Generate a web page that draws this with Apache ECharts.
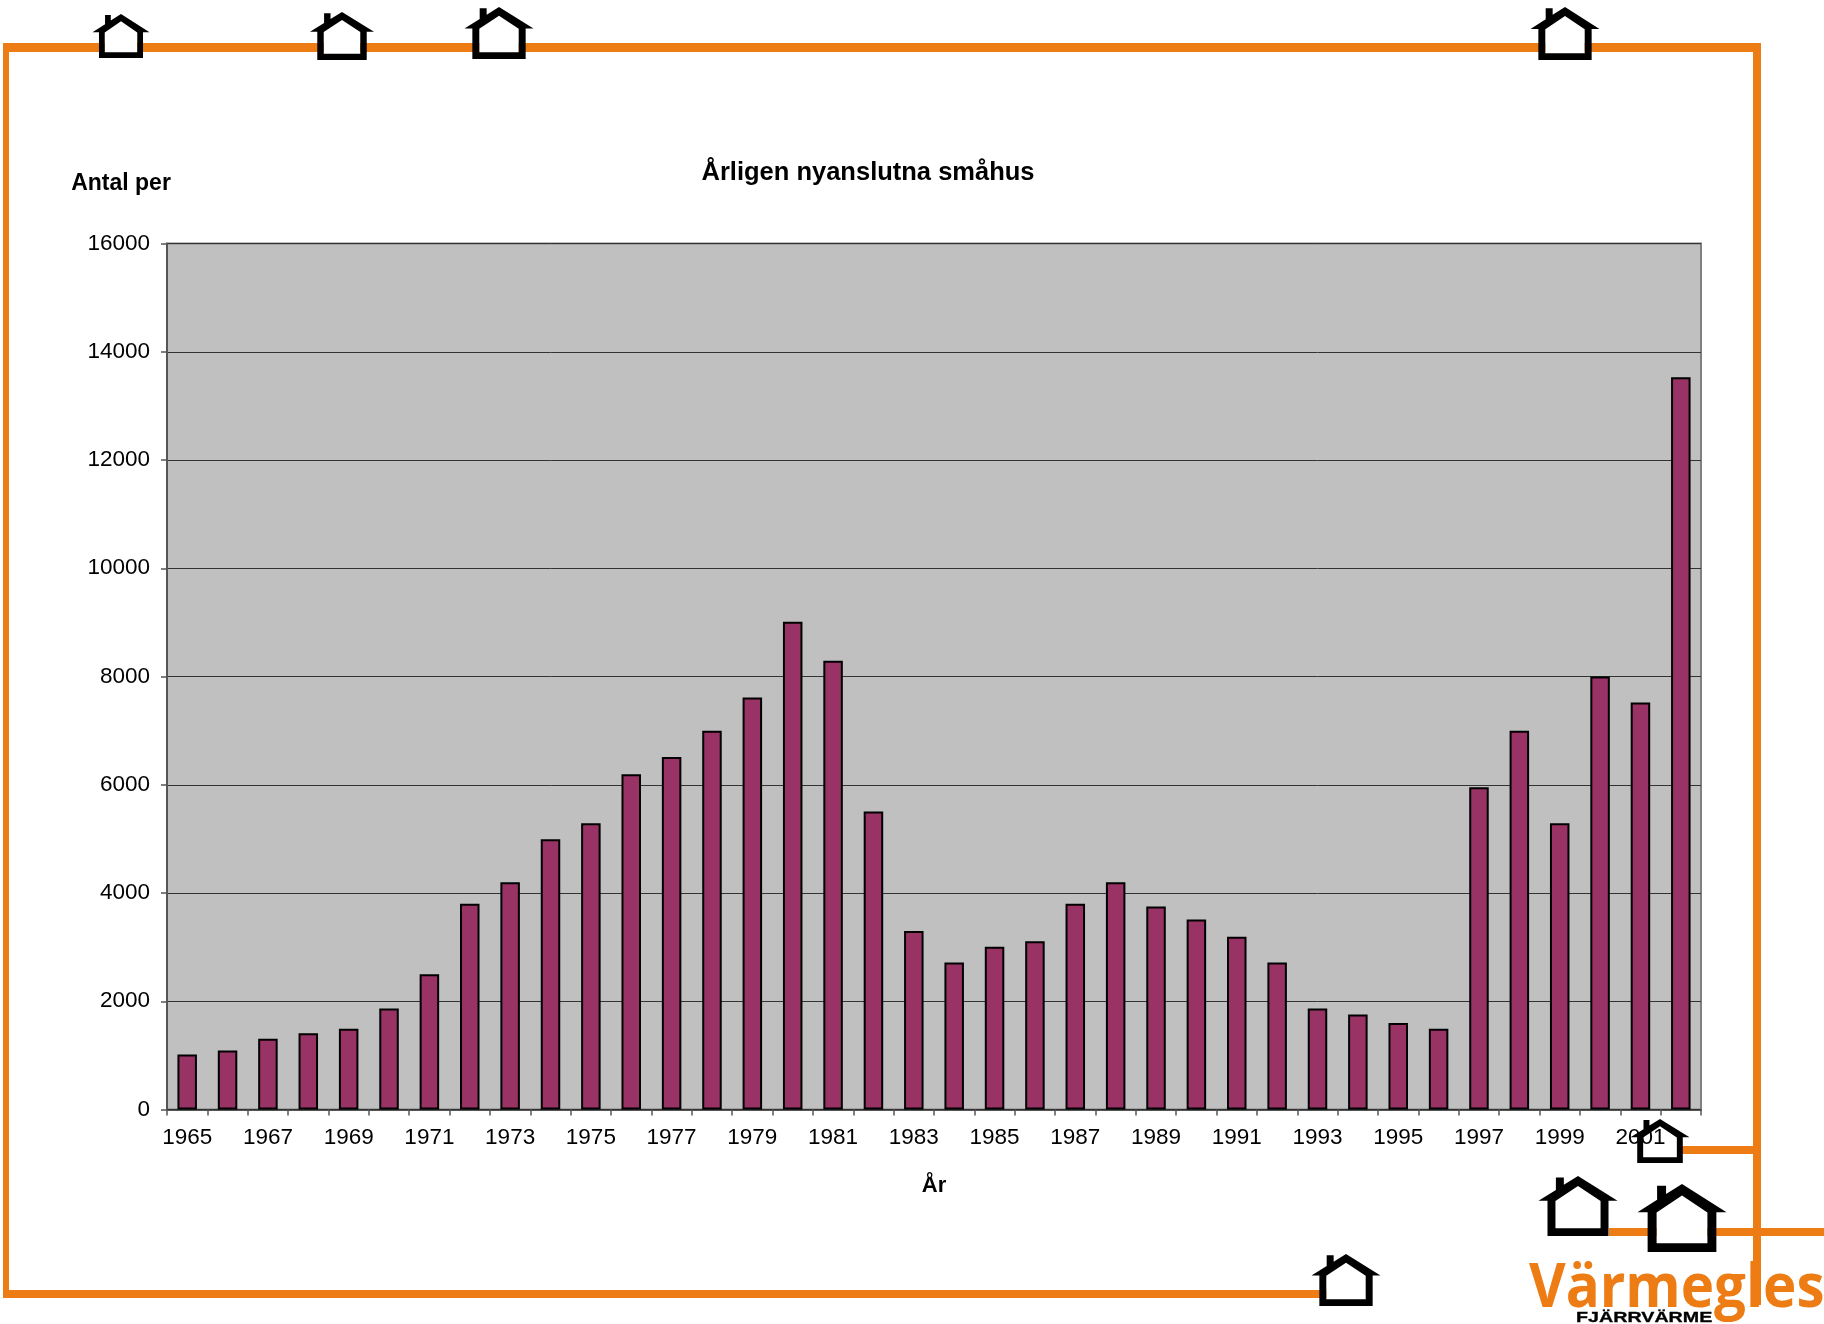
<!DOCTYPE html>
<html><head><meta charset="utf-8">
<style>html,body{margin:0;padding:0;background:#fff}#c{width:1824px;height:1324px}</style>
<script src="https://cdn.jsdelivr.net/npm/echarts@6/dist/echarts.min.js"></script>
</head><body><div id="c"></div>
<script>
const years = ['1965','1966','1967','1968','1969','1970','1971','1972','1973','1974','1975','1976','1977','1978','1979','1980','1981','1982','1983','1984','1985','1986','1987','1988','1989','1990','1991','1992','1993','1994','1995','1996','1997','1998','1999','2000','2001','2002'];
const connected = [1015,1090,1305,1410,1490,1865,2500,3800,4200,4995,5290,6195,6515,7000,7610,9010,8290,5505,3300,2715,3005,3110,3800,4200,3750,3510,3190,2715,1865,1755,1600,1490,5955,7000,5290,8000,7520,13530];
const titleText = 'Årligen nyanslutna småhus';
const yName = 'Antal per';
const xName = 'År';
const ORANGE = '#EC7C13';
const frameLines = [
  [3,43,1761,52],[3,43,9,1298],[3,1290,1330,1298],[1753,43,1761,1305],
  [1682,1146,1753,1154],[1609,1228,1824,1236]
];
const houses = [
  [121,14,57,44],[342,12,64,48],[499,7,69,52],[1565,7,69,53],
  [1660,1119,59,44],[1578,1176,79,60],[1682,1184,89,68],[1346,1254,69,52]
];
function housePaths(cx,top,w,h){
  const X=v=>cx+v/268*w, Y=v=>top+v/203*h;
  const pts=a=>a.map(p=>[X(p[0]),Y(p[1])]);
  const outer=pts([[0,0],[134,84],[103.5,84],[103.5,203],[-103.5,203],[-103.5,84],[-134,84],[-75,47],[-75,5],[-48,5],[-48,30]]);
  const inner=pts([[0,34],[76.5,85],[76.5,177],[-76.5,177],[-76.5,85]]);
  return {outer,inner};
}
const graphics=[];
frameLines.forEach(r=>graphics.push({type:'rect',z:-3,shape:{x:r[0],y:r[1],width:r[2]-r[0],height:r[3]-r[1]},style:{fill:ORANGE}}));
houses.forEach(h=>{
  const p=housePaths(...h);
  graphics.push({type:'polygon',z:-2,shape:{points:p.inner},style:{fill:'#fff'}});
  const ring=p.outer.concat([p.outer[0]],[p.inner[0]],p.inner.slice().reverse(),[p.inner[0]]);
  graphics.push({type:'polygon',z:100,shape:{points:ring},style:{fill:'#000'}});
});
graphics.push({type:'text',z:50,x:1529,y:1260,scaleX:0.94,style:{text:'Värmegles',font:'700 60px "Open Sans"',fill:ORANGE}});
graphics.push({type:'text',z:101,x:1576,y:1310,scaleX:1.27,style:{text:'FJÄRRVÄRME',font:'bold 15.5px "Liberation Sans"',fill:'#000',stroke:'#000',lineWidth:0.3}});

const chart=echarts.init(document.getElementById('c'),null,{renderer:'canvas'});
chart.setOption({
  animation:false,
  backgroundColor:'#fff',
  title:{text:titleText,left:863,top:155,textAlign:'center',textStyle:{fontFamily:'Liberation Sans',fontWeight:'bold',fontSize:25.5,color:'#000'}},
  grid:{left:167,right:123,top:243.5,height:866,show:true,backgroundColor:'#C0C0C0',borderColor:'#808080',borderWidth:2},
  xAxis:{type:'category',data:years,boundaryGap:true,
    name:xName,nameLocation:'middle',nameGap:65,
    nameTextStyle:{fontFamily:'Liberation Sans',fontWeight:'bold',fontSize:22,color:'#000'},
    axisLine:{lineStyle:{color:'#333',width:1.5}},
    axisTick:{show:true,length:6,alignWithLabel:false,interval:0,lineStyle:{color:'#555',width:1.5}},
    axisLabel:{interval:1,margin:17,fontFamily:'Liberation Sans',fontSize:22.5,color:'#000'},
    splitLine:{show:false}},
  yAxis:{type:'value',min:0,max:16000,interval:2000,
    name:yName,nameLocation:'end',nameGap:48,nameRotate:0,
    nameTextStyle:{fontFamily:'Liberation Sans',fontWeight:'bold',fontSize:23,color:'#000',align:'center',padding:[0,92,0,0]},
    axisLine:{show:true,lineStyle:{color:'#555',width:2}},
    axisTick:{show:true,length:6,lineStyle:{color:'#555',width:1.5}},
    axisLabel:{margin:17,fontFamily:'Liberation Sans',fontSize:22.5,color:'#000',formatter:v=>String(v)},
    splitLine:{show:true,lineStyle:{color:'#333',width:1}}},
  series:[{type:'bar',data:connected,barWidth:19.5,itemStyle:{color:'#993366',borderColor:'#000',borderWidth:2}}],
  graphic:graphics
});
</script></body></html>
